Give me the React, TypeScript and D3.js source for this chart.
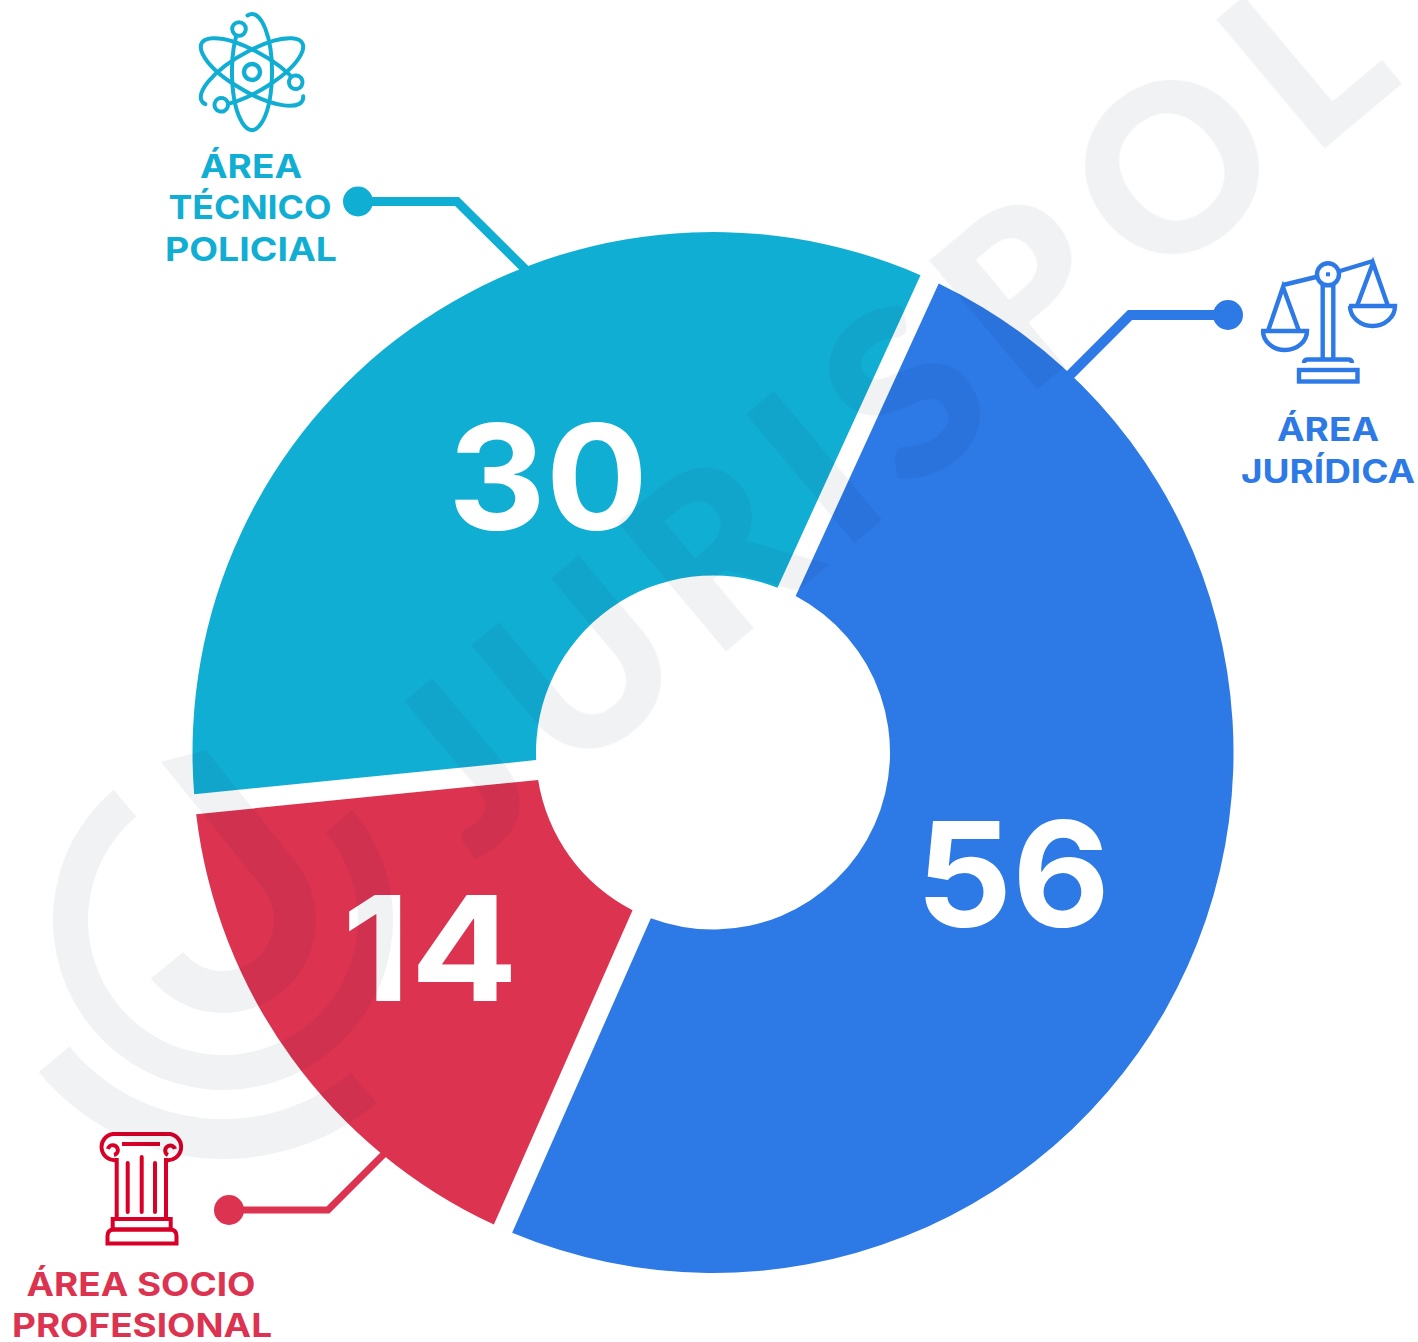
import React from "react";
import * as d3 from "d3";

// ---- data ----
const areaNames = ["ÁREA JURÍDICA", "ÁREA SOCIO PROFESIONAL", "ÁREA TÉCNICO POLICIAL"];
const countLabels = ["56", "14", "30"];
// Drawn slice spans in degrees (the picture does not draw them in proportion to the counts)
const sliceSpans = [179.2, 60.5, 120.3];
const firstSliceStart = 24.6;
const sliceColors = ["#2D79E6", "#DC3351", "#11AED4"];
const numberPositions = [[1013, 927], [430, 1001], [548, 530]];
const numberWidths = [194, 176, 200];
const labelLines = [
  [["ÁREA", 1328, 441, 102], ["JURÍDICA", 1328, 483, 174]],
  [["ÁREA SOCIO", 141, 1296, 229], ["PROFESIONAL", 142, 1337, 260]],
  [["ÁREA", 251, 178, 102], ["TÉCNICO", 250, 219, 163], ["POLICIAL", 251, 261, 172]],
];
const connectors = [
  { pts: [[1228, 315], [1130, 315], [1060, 385]], w: 10 },
  { pts: [[229, 1210], [328, 1210], [395, 1143]], w: 7 },
  { pts: [[358, 201.5], [457, 201.5], [535, 279]], w: 9 },
];
const watermarkLetters = ["J", "U", "R", "I", "S", "P", "O", "L"];
const watermarkCenters = [-1058, -902, -724, -595, -478, -320, -128, 44];

const W = 1418, H = 1342;
const CX = 713, CY = 752.5, R_OUT = 520.5, R_IN = 177;
const WM = "#F1F2F4";
const rad = (d: number) => (d * Math.PI) / 180;
const FONT = "Inter, 'Open Sans', sans-serif";
const WM_FONT = "Lato, Inter, sans-serif";

const pie = d3.pie<number>().sort(null).value((d) => d)
  .startAngle(rad(firstSliceStart)).endAngle(rad(firstSliceStart + 360));
const arc = d3.arc<any>().innerRadius(R_IN).outerRadius(R_OUT).padAngle(20 / 500).padRadius(500);
const line = d3.line();

const ring = (r0: number, r1: number, a0: number, a1: number) =>
  d3.arc()({ innerRadius: r0, outerRadius: r1, startAngle: rad(a0), endAngle: rad(a1) } as any) as string;

function Atom() {
  const rx = 20, ry = 58;
  const p = (t: number) => [rx * Math.sin(rad(t)), -ry * Math.cos(rad(t))];
  const [sx, sy] = p(-13);
  const [ex, ey] = p(-41);
  const d = `M${sx} ${sy}A${rx} ${ry} 0 1 1 ${ex} ${ey}`;
  return (
    <g transform="translate(252,72)" fill="none" stroke="#11AED4" strokeWidth={4} strokeLinecap="round">
      {[0, 120, 240].map((a) => (
        <g key={a} transform={`rotate(${a})`}>
          <path d={d} />
          <circle cx={-13} cy={-43} r={6.8} fill="#fff" />
        </g>
      ))}
      <circle r={8} strokeWidth={4.4} />
    </g>
  );
}

function Scales() {
  const c = "#2D79E6";
  return (
    <g fill="none" stroke={c} strokeWidth={4.4}>
      <path d="M1283 285L1316 277M1340 271L1373 261" />
      <path d="M1322.7 284V360M1333.3 284V360" />
      <circle cx={1328} cy={274.3} r={11} fill="#fff" />
      <rect x={1326} y={272.3} width={4} height={4} fill={c} stroke="none" />
      <path d="M1304 363Q1304 359.5 1308 359.5H1348Q1352 359.5 1352 363" />
      <rect x={1299} y={370} width={58.5} height={11.5} />
      <path d="M1268 331L1283 287L1299 331" />
      <path d="M1261 331H1307A22 19 0 0 1 1263 331" />
      <path d="M1357 306L1373 263L1388 306" />
      <path d="M1349 306H1395A22.5 20 0 0 1 1350 306" />
    </g>
  );
}

function Column() {
  const c = "#D80027";
  return (
    <g fill="none" stroke={c} strokeWidth={4}>
      <path d="M116.7 1160A11 11 0 1 1 112.7 1134H170A11 11 0 1 1 166 1160" />
      <path d="M122 1144H160" />
      <path d="M114 1155A5 5 0 1 0 108 1149M168 1155A5 5 0 1 1 175 1149" />
      <path d="M116.7 1158V1219M166 1158V1219" />
      <path d="M127.7 1163V1212M141.7 1157V1212M155 1163V1212" strokeLinecap="round" />
      <rect x={112.7} y={1219} width={58} height={10.5} />
      <path d="M107.5 1243.5V1236Q107.5 1229.5 114 1229.5H170Q176.5 1229.5 176.5 1236V1243.5Z" />
    </g>
  );
}

function Watermark() {
  return (
    <g style={{ mixBlendMode: "multiply" }} fill={WM}>
      <g transform="translate(1324,149) rotate(-40)" stroke={WM} strokeWidth={6}>
        {watermarkLetters.map((l, i) => (
          <text key={i} x={watermarkCenters[i]} y={-3} textAnchor="middle" fontFamily={WM_FONT} fontWeight={700} fontSize={224}>
            {l}
          </text>
        ))}
      </g>
      <g transform="translate(223,920)">
        <path d={ring(199, 239, 140, 230.5)} />
        <path d={ring(135, 170, 49.6, 320)} />
        <path d={ring(51, 93, 50, 231)} />
        <path d="M-17 -170L71 -60L39 -33L-62 -158Z" />
      </g>
    </g>
  );
}

export default function App() {
  const slices = pie(sliceSpans);
  return (
    <svg width={W} height={H} viewBox={`0 0 ${W} ${H}`} style={{ position: "absolute", left: 0, top: 0, display: "block" }}>
      <rect width={W} height={H} fill="#fff" />
      {connectors.map((c, i) => (
        <g key={i}>
          <path d={line(c.pts as any) as string} fill="none" stroke={sliceColors[i]} strokeWidth={c.w} />
          <circle cx={c.pts[0][0]} cy={c.pts[0][1]} r={15} fill={sliceColors[i]} />
        </g>
      ))}
      <g transform={`translate(${CX},${CY})`}>
        {slices.map((s, i) => (
          <path key={i} d={arc(s) as string} fill={sliceColors[i]} aria-label={areaNames[i]} />
        ))}
      </g>
      {countLabels.map((t, i) => (
        <text key={t} x={numberPositions[i][0]} y={numberPositions[i][1]} textAnchor="middle" fill="#fff"
          fontFamily={FONT} fontWeight={700} fontSize={146} textLength={numberWidths[i]} lengthAdjust="spacingAndGlyphs">
          {t}
        </text>
      ))}
      {labelLines.map((lines, i) =>
        lines.map(([t, x, y, w]: any) => (
          <text key={t + i} x={x} y={y} textAnchor="middle" fill={sliceColors[i]} fontFamily={FONT} fontWeight={700}
            fontSize={32} textLength={w} lengthAdjust="spacingAndGlyphs">
            {t}
          </text>
        ))
      )}
      <Atom />
      <Scales />
      <Column />
      <Watermark />
    </svg>
  );
}
